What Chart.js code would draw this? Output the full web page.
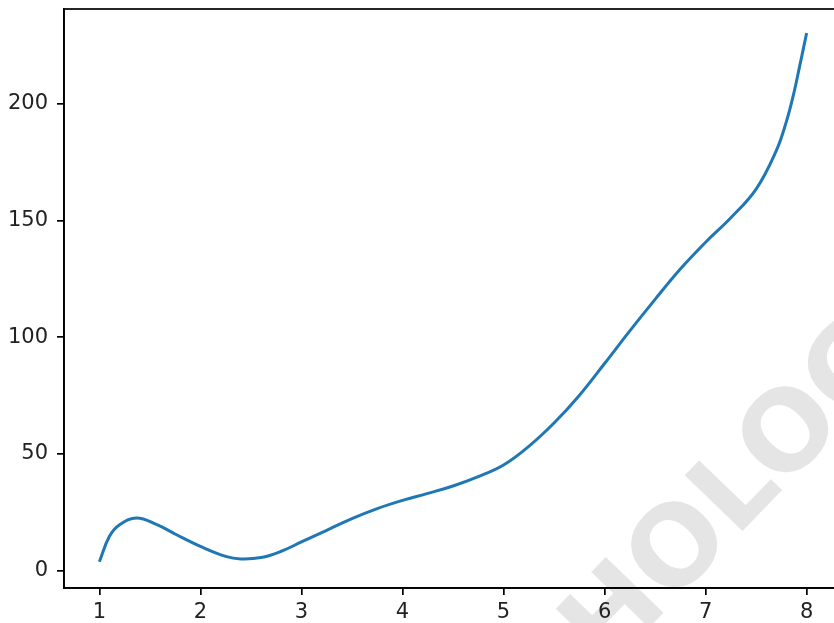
<!DOCTYPE html>
<html>
<head>
<meta charset="utf-8">
<script src="https://cdn.jsdelivr.net/npm/chart.js@4.4.0/dist/chart.umd.min.js"></script>
<style>
    html, body { margin: 0; padding: 0; background: #fff; overflow: hidden; }
    #wrap { width: 834px; height: 623px; overflow: hidden; }
</style>
</head>
<body>
<div id="wrap"><canvas id="lineChart" width="850" height="623"></canvas></div>
<script>
const xValues = [1.0, 1.1, 1.2, 1.37, 1.57, 1.75, 2.0, 2.25, 2.4, 2.6, 2.8, 3.0, 3.25, 3.5, 3.75,
    4.0, 4.25, 4.5, 4.75, 5.0, 5.25, 5.5, 5.75, 6.0, 6.25, 6.5, 6.75, 7.0, 7.25, 7.5,
    7.7, 7.8, 7.87, 7.93, 8.0];
const yValues = [3.7, 14.6, 19.6, 22.5, 19.6, 15.6, 10.3, 6.0, 4.9, 5.5, 8.2, 12.2, 17.2, 22.2, 26.5,
    30.0, 33.0, 36.2, 40.2, 45.2, 53.2, 63.2, 75.0, 88.7, 102.7, 116.2, 129.2, 140.7, 151.2, 163.5,
    180.0, 192.5, 204.0, 216.0, 230.4];
const xTicks = [1, 2, 3, 4, 5, 6, 7, 8];
const yTicks = [0, 50, 100, 150, 200];

// กรอบรอบพื้นที่กราฟ (แบบ matplotlib)
const framePlugin = {
    id: 'frame',
    afterDraw(chart) {
        const { ctx, chartArea: a } = chart;
        ctx.save();
        ctx.strokeStyle = '#000';
        ctx.lineWidth = 1.7;
        ctx.strokeRect(a.left, a.top, a.right - a.left, a.bottom - a.top);
        ctx.restore();
    }
};

// ลายน้ำสีเทาด้านล่างขวา
const watermarkPlugin = {
    id: 'watermark',
    beforeDraw(chart) {
        const ctx = chart.ctx;
        ctx.save();
        ctx.translate(586, 652);
        ctx.rotate(-46 * Math.PI / 180);
        ctx.font = 'bold 110px "DejaVu Sans"';
        ctx.fillStyle = '#e5e5e5';
        ctx.textBaseline = 'middle';
        ctx.fillText('HOLOGRAM', 0, 0);
        ctx.restore();
    }
};

const tickFont = { family: 'DejaVu Sans', size: 21 };

new Chart(document.getElementById('lineChart').getContext('2d'), {
    type: 'line',
    data: {
        datasets: [{
            data: xValues.map((x, i) => ({ x: x, y: yValues[i] })),
            borderColor: '#1f77b4',
            borderWidth: 3,
            pointRadius: 0,
            fill: false,
            tension: 0.4
        }]
    },
    options: {
        responsive: false,
        animation: false,
        layout: { padding: { top: 9, right: 8, left: 0, bottom: 0 } },
        plugins: { legend: { display: false }, tooltip: { enabled: false } },
        scales: {
            x: {
                type: 'linear',
                min: 0.65,
                max: 8.35,
                afterBuildTicks: s => { s.ticks = xTicks.map(v => ({ value: v })); },
                afterFit: s => { s.height = 35; s.paddingLeft = 0; s.paddingRight = 0; },
                grid: { drawOnChartArea: false, drawTicks: true, tickLength: 7, color: '#000', lineWidth: 1.7 },
                border: { color: '#000', width: 1.7 },
                ticks: { color: '#222', font: tickFont, padding: 5, maxRotation: 0, autoSkip: false }
            },
            y: {
                type: 'linear',
                min: -7.55,
                max: 240.7,
                afterBuildTicks: s => { s.ticks = yTicks.map(v => ({ value: v })); },
                afterFit: s => { s.width = 64; s.paddingTop = 0; s.paddingBottom = 0; },
                grid: { drawOnChartArea: false, drawTicks: true, tickLength: 7, color: '#000', lineWidth: 1.7 },
                border: { color: '#000', width: 1.7 },
                ticks: { color: '#222', font: tickFont, padding: 9 }
            }
        }
    },
    plugins: [watermarkPlugin, framePlugin]
});
</script>
</body>
</html>
